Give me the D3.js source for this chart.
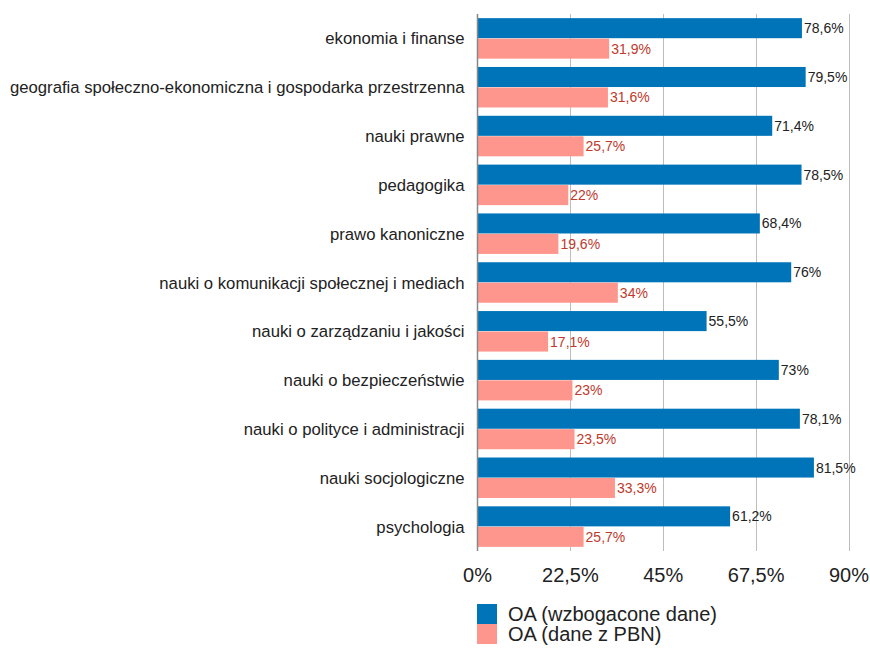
<!DOCTYPE html>
<html><head><meta charset="utf-8">
<script src="https://cdn.jsdelivr.net/npm/d3@7"></script>
<style>body{margin:0;background:#fff;font-family:"Liberation Sans",Arial,sans-serif;}</style>
</head><body><svg id="c" width="870" height="648"></svg>
<script>
const categories = ["ekonomia i finanse","geografia społeczno-ekonomiczna i gospodarka przestrzenna","nauki prawne","pedagogika","prawo kanoniczne","nauki o komunikacji społecznej i mediach","nauki o zarządzaniu i jakości","nauki o bezpieczeństwie","nauki o polityce i administracji","nauki socjologiczne","psychologia"];
const enriched = [78.6,79.5,71.4,78.5,68.4,76,55.5,73,78.1,81.5,61.2];
const pbn = [31.9,31.6,25.7,22,19.6,34,17.1,23,23.5,33.3,25.7];
const seriesNames = ["OA (wzbogacone dane)","OA (dane z PBN)"];
const tickValues = [0,22.5,45,67.5,90];
const colors = ["#0074b9","#ff968d"];
const labelColors = ["#222","#c0392b"];

const svg = d3.select("#c");
const m = {left:477.5, right:849, top:14, bottom:551};
const x = d3.scaleLinear().domain([0,90]).range([m.left,m.right]);
const y = d3.scaleBand().domain(categories).range([m.top,m.bottom]).paddingInner(0.17).paddingOuter(0.085);
const fmt = v => String(v).replace(".",",") + "%";

// grid
svg.append("g").selectAll("line").data(tickValues.slice(1)).join("line")
  .attr("x1",d=>Math.round(x(d))+0.5).attr("x2",d=>Math.round(x(d))+0.5)
  .attr("y1",m.top).attr("y2",m.bottom).attr("stroke","#bdbdbd").attr("stroke-width",1);

const sub = d3.scaleBand().domain([0,1]).range([0,y.bandwidth()]).paddingInner(0.02);
const series = [enriched,pbn];
series.forEach((vals,si)=>{
  const g = svg.append("g");
  g.selectAll("rect").data(vals).join("rect")
    .attr("x",x(0)).attr("y",(d,i)=>y(categories[i])+sub(si))
    .attr("width",d=>x(d)-x(0)).attr("height",sub.bandwidth())
    .attr("fill",colors[si]);
  g.selectAll("text").data(vals).join("text")
    .attr("x",d=>x(d)+2).attr("y",(d,i)=>y(categories[i])+sub(si)+sub.bandwidth()/2)
    .attr("dy","0.36em").attr("font-size",14).attr("fill",labelColors[si])
    .text(fmt);
});

// axis line
svg.append("line").attr("x1",x(0)).attr("x2",x(0)).attr("y1",m.top).attr("y2",m.bottom)
  .attr("stroke","#888").attr("stroke-width",1.5);

// category labels
svg.append("g").selectAll("text").data(categories).join("text")
  .attr("x",m.left-13).attr("y",d=>y(d)+y.bandwidth()/2).attr("dy","0.36em")
  .attr("text-anchor","end").attr("font-size",16.7).attr("fill","#222").text(d=>d);

// tick labels
svg.append("g").selectAll("text").data(tickValues).join("text")
  .attr("x",d=>x(d)).attr("y",581.5).attr("text-anchor","middle")
  .attr("font-size",20).attr("fill","#222").text(fmt);

// legend
const lg = svg.append("g");
seriesNames.forEach((n,i)=>{
  lg.append("rect").attr("x",477).attr("y",604+i*20).attr("width",20).attr("height",20).attr("fill",colors[i]);
  lg.append("text").attr("x",508).attr("y",614+i*20).attr("dy","0.36em").attr("font-size",20).attr("fill","#222").text(n);
});
</script></body></html>
